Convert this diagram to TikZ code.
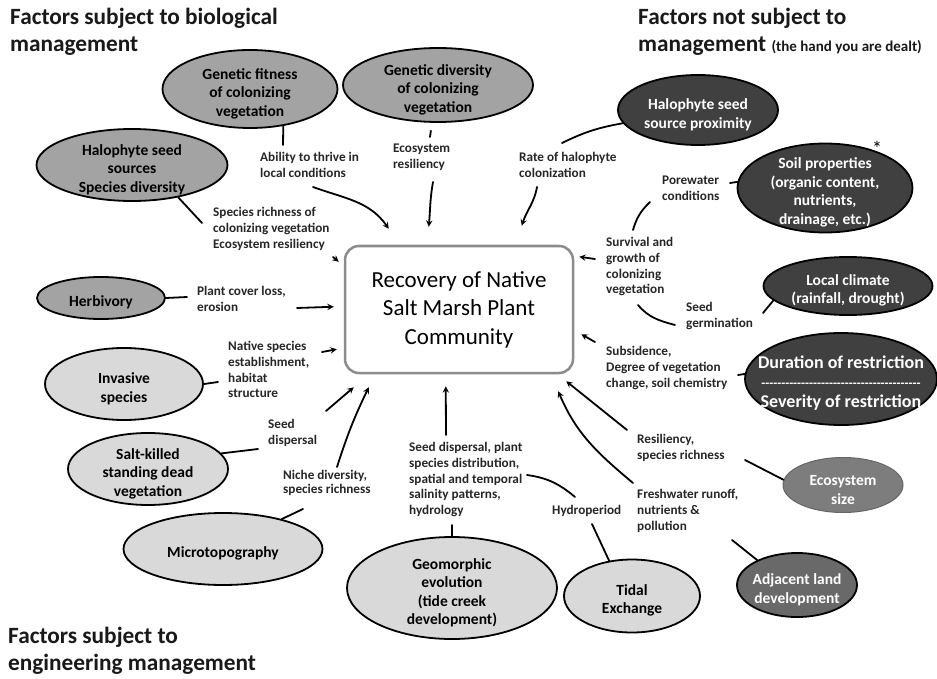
\documentclass[tikz,border=0pt]{standalone}
\usepackage{fontspec}
\setmainfont{Carlito}
\usetikzlibrary{shapes.geometric, arrows.meta, positioning}

\definecolor{fillmid}{RGB}{163,163,163}
\definecolor{filldark}{RGB}{64,64,64}
\definecolor{filllight}{RGB}{217,217,217}
\definecolor{fillsize}{RGB}{125,125,125}
\definecolor{filladj}{RGB}{105,105,105}
\definecolor{boxgray}{RGB}{140,140,140}
\definecolor{labgray}{RGB}{38,38,38}

\newcommand\dashrow{\foreach \k in {1,...,40}{-\kern0pt}}
\newcommand\lift{\rule{0pt}{20pt}}

\tikzset{
  factor/.style = {ellipse, draw, line width=1.8pt, align=center, inner xsep=-8pt, inner ysep=-8pt,
    font=\fontsize{15.5}{18.5}\selectfont\bfseries},
  midfactor/.style = {factor, fill=fillmid},
  lightfactor/.style = {factor, fill=filllight},
  darkfactor/.style = {factor, fill=filldark, text=white},
  effect/.style = {anchor=north west, align=left, inner sep=0pt, text=labgray,
    font=\fontsize{13.2}{15.8}\selectfont\bfseries},
  heading/.style = {anchor=north west, align=left, inner sep=0pt, text=black!90,
    font=\fontsize{23.3}{27}\selectfont\bfseries},
  recovery/.style = {draw=boxgray, line width=2.5pt, rounded corners=14pt, fill=white,
    minimum width=228, minimum height=127, align=center, font=\fontsize{23}{28.5}\selectfont},
  link/.style = {line width=1.8pt},
}

\begin{document}
\begin{tikzpicture} [x=1pt, y=1pt, line cap=round]
\useasboundingbox (0,0) rectangle (937,-679);
\fill [white] (0,0) rectangle (937,-679);

% headings
\node (hbio) at (10,-8) [heading] {Factors subject to biological\\management};
\node (hnot) at (638,-8) [heading] {Factors not subject to\\management {\fontsize{15}{15}\selectfont (the hand you are dealt)}};
\node (heng) at (8,-627) [heading] {Factors subject to\\engineering management};

% centre
\node (recov) at (459,-309.5) [recovery] {Recovery of Native\\Salt Marsh Plant\\Community};

% factors
\node (gfit) at (250,-89) [midfactor, minimum width=175, minimum height=78] {\lift Genetic fitness\\of colonizing\\vegetation};
\node (gdiv) at (438,-85) [midfactor, minimum width=190, minimum height=74] {\lift Genetic diversity\\of colonizing\\vegetation};
\node (halsrc) at (132,-165) [midfactor, minimum width=191, minimum height=72] {\lift Halophyte seed\\sources\\Species diversity};
\node (herb) at (101,-298) [midfactor, minimum width=128, minimum height=42] {\lift Herbivory};
\node (invas) at (124,-384) [lightfactor, minimum width=158, minimum height=72] {\lift Invasive\\species};
\node (salt) at (148,-469) [lightfactor, minimum width=160, minimum height=72] {\lift Salt-killed\\standing dead\\vegetation};
\node (micro) at (223,-549) [lightfactor, minimum width=199, minimum height=72] {\lift Microtopography};
\node (geomorph) at (452,-588) [lightfactor, minimum width=210, minimum height=102] {\lift Geomorphic\\evolution\\(tide creek\\development)};
\node (tidal) at (632,-596) [lightfactor, minimum width=136, minimum height=73] {\lift Tidal\\Exchange};
\node (adjland) at (797,-585) [factor, fill=filladj, text=white, minimum width=120, minimum height=64] {\lift Adjacent land\\development};
\node (ecosz) at (843,-485) [factor, fill=fillsize, draw=black!60, line width=1pt, text=white, minimum width=120, minimum height=55] {\lift Ecosystem\\size};
\node (durat) at (841,-379) [darkfactor, inner xsep=-22pt, minimum width=192, minimum height=92,
    font=\fontsize{18}{19.5}\selectfont\bfseries] {\lift Duration of restriction\\{\fontsize{13}{19.5}\selectfont\dashrow}\\Severity of restriction};
\node (clim) at (848,-286) [darkfactor, minimum width=169, minimum height=58] {\lift Local climate\\(rainfall, drought)};
\node (soil) at (825,-188) [darkfactor, inner ysep=-11pt, minimum width=175, minimum height=89] {\lift Soil properties\\(organic content,\\nutrients,\\drainage, etc.)};
\node (halprox) at (698,-110) [darkfactor, minimum width=160, minimum height=70] {\lift Halophyte seed\\source proximity};
\node (asterisk) at (877,-148) {\fontsize{20}{20}\selectfont *};

% effects
\node (ability) at (260,-152) [effect] {Ability to thrive in\\local conditions};
\node (ecores) at (393,-144) [effect] {Ecosystem\\resiliency};
\node (rate) at (519,-152) [effect] {Rate of halophyte\\colonization};
\node (porew) at (662,-176) [effect] {Porewater\\conditions};
\node (richness) at (213,-207) [effect] {Species richness of\\colonizing vegetation\\Ecosystem resiliency};
\node (survival) at (606,-237) [effect] {Survival and\\growth of\\colonizing\\vegetation};
\node (germ) at (686,-302) [effect] {Seed\\germination};
\node (plantcov) at (197,-286) [effect] {Plant cover loss,\\erosion};
\node (native) at (228,-341) [effect] {Native species\\establishment,\\habitat\\structure};
\node (subsid) at (606,-346) [effect] {Subsidence,\\Degree of vegetation\\change, soil chemistry};
\node (seeddisp) at (268,-419) [effect] {Seed\\dispersal};
\node (resil) at (637,-434) [effect] {Resiliency,\\species richness};
\node (niche) at (283,-470) [effect, font=\fontsize{13.2}{14.5}\selectfont\bfseries] {Niche diversity,\\species richness};
\node (geolab) at (409,-442) [effect] {Seed dispersal, plant\\species distribution,\\spatial and temporal\\salinity patterns,\\hydrology};
\node (hydro) at (552,-505) [effect] {Hydroperiod};
\node (fresh) at (637,-489) [effect] {Freshwater runoff,\\nutrients \&\\pollution};

% arrows into the recovery box
\path [-stealth, link]
    ([shift={(53,-35)}]ability.north west) edge [out=-20, in=125] ([shift={(45,16)}]recov.north west)
    ([shift={(40,-38)}]ecores.north west) edge [out=-100, in=85] ([shift={(85,18)}]recov.north west)
    ([shift={(18,-35)}]rate.north west) edge [out=-100, in=72] ([shift={(178,19)}]recov.north west)
    ([shift={(120,-50)}]richness.north west) edge ([shift={(-5,-17)}]recov.north west)
    ([shift={(100,-22)}]plantcov.north west) edge ([shift={(-10,-62)}]recov.north west)
    ([shift={(94,-11)}]native.north west) edge ([shift={(-7,25)}]recov.south west)
    ([shift={(58,8)}]seeddisp.north west) edge ([shift={(10,-13)}]recov.south west)
    ([shift={(54,3)}]niche.north west) edge [bend left=4] ([shift={(25,-13)}]recov.south west)
    ([shift={(37,7)}]geolab.north west) edge ([shift={(102,-12)}]recov.south west)
    ([shift={(-4,6)}]fresh.north west) edge [out=140, in=-67] ([shift={(-16,-17)}]recov.south east)
    ([shift={(-10,4)}]resil.north west) edge ([shift={(-8,-7)}]recov.south east)
    ([shift={(-11,4)}]subsid.north west) edge ([shift={(7,40)}]recov.south east)
    ([shift={(-11,-22)}]survival.north west) edge ([shift={(5,-12)}]recov.north east);

% factor to effect lines
\path [link]
    (gfit.-48) edge ([shift={(23,7)}]ability.north west)
    ([xshift=-6pt]gdiv.south) edge [shorten <=8pt] ([shift={(37,7)}]ecores.north west)
    (halsrc.-35) edge ([shift={(-11,-16)}]richness.north west)
    (halprox.190) edge [bend right=8] ([shift={(43,9)}]rate.north west)
    (soil.176) edge ([shift={(68,-7)}]porew.north west)
    ([shift={(-12,-26)}]porew.north west) edge [bend right=15] ([shift={(27,7)}]survival.north west)
    ([shift={(32,-68)}]survival.north west) edge [out=-50, in=165] ([shift={(-11,-23)}]germ.north west)
    (clim.191) edge ([shift={(77,-11)}]germ.north west)
    (durat.177) edge ([shift={(132,-29)}]subsid.north west)
    (ecosz.175) edge ([shift={(108,-26)}]resil.north west)
    (adjland.148) edge ([shift={(95,-51)}]fresh.north west)
    (tidal.123) edge ([shift={(40,-19)}]hydro.north west)
    (geomorph.north) edge ([shift={(43,-83)}]geolab.north west)
    ([shift={(118,-33)}]geolab.north west) edge [out=-8, in=140] ([shift={(23,8)}]hydro.north west)
    (micro.27) edge ([shift={(20,-39)}]niche.north west)
    (salt.12) edge ([shift={(-10,-30)}]seeddisp.north west)
    (invas.east) edge ([shift={(-10,-41)}]native.north west)
    (herb.east) edge ([shift={(-10,-11)}]plantcov.north west);
\end{tikzpicture}
\end{document}
